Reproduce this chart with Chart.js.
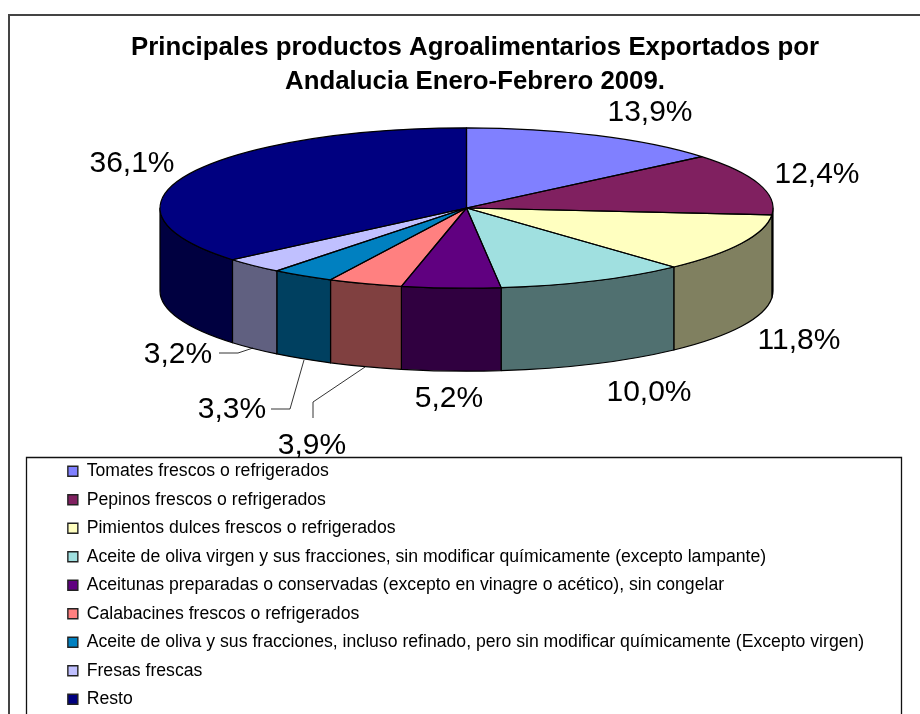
<!DOCTYPE html>
<html><head><meta charset="utf-8">
<style>html,body{margin:0;padding:0;background:#fff}canvas{display:block}</style>
<script src="https://cdn.jsdelivr.net/npm/chart.js@4"></script>
</head><body>
<div style="width:920px;height:714px"><canvas id="c" width="920" height="714"></canvas></div>
<script>
const categories = [
  'Tomates frescos o refrigerados',
  'Pepinos frescos o refrigerados',
  'Pimientos dulces frescos o refrigerados',
  'Aceite de oliva virgen y sus fracciones, sin modificar químicamente (excepto lampante)',
  'Aceitunas preparadas o conservadas (excepto en vinagre o acético), sin congelar',
  'Calabacines frescos o refrigerados',
  'Aceite de oliva y sus fracciones, incluso refinado, pero sin modificar químicamente (Excepto virgen)',
  'Fresas frescas',
  'Resto'
];
const shares = [13.9, 12.4, 11.8, 10.0, 5.2, 3.9, 3.3, 3.2, 36.1];
const titleLines = ['Principales productos Agroalimentarios Exportados por', 'Andalucia Enero-Febrero 2009.'];
const topColors  = ['#8080FF','#802060','#FFFFC0','#A0E0E0','#600080','#FF8080','#0080C0','#C0C0FF','#000080'];
const wallColors = ['#404080','#401030','#808060','#507070','#300040','#804040','#004060','#606080','#000040'];

// Presentation only
const PIE_CY = 208, TILT = 80/306, WALL = 83;
const labelCenters = [[650,113],[817,175],[799,341],[649,393],[449,399],[312,446],[232,410],[178,355],[132,164]];
const leaders = [null,null,null,null,null,
  [[313,418],[313,402],[365,367]],
  [[271,409],[290,409],[304,360]],
  [[219,353],[238,353],[253,348]],
  null];

const pie3d = {
  id:'pie3d',
  afterLayout(chart){
    const t = chart.titleBlock;
    t.left = 131; t.right = 819; t.top = 31;
    const l = chart.legend;
    l.left = 57; l.right = 900; l.top = 451.5; l.bottom = 770;
  },
  beforeDraw(chart){
    const c = chart.ctx;
    c.save();
    c.fillStyle = '#fff'; c.fillRect(0,0,920,714);
    c.strokeStyle = '#444'; c.lineWidth = 2;
    c.beginPath(); c.moveTo(9,720); c.lineTo(9,15); c.lineTo(920,15); c.stroke();
    c.restore();
  },
  beforeDatasetDraw(chart,args){
    const c = chart.ctx, arcs = args.meta.data, a0 = arcs[0];
    const rx = a0.outerRadius, ry = rx*TILT;
    c.save();
    c.strokeStyle = '#000'; c.lineWidth = 1.2; c.lineJoin = 'round';
    arcs.forEach((a,i)=>{
      const s = Math.max(a.startAngle,0), e = Math.min(a.endAngle,Math.PI);
      if (e <= s) return;
      c.beginPath();
      c.ellipse(a.x,PIE_CY,rx,ry,0,s,e);
      c.ellipse(a.x,PIE_CY+WALL,rx,ry,0,e,s,true);
      c.closePath();
      c.fillStyle = wallColors[i]; c.fill(); c.stroke();
    });
    c.restore();
    c.save();
    c.translate(a0.x,PIE_CY); c.scale(1,TILT); c.translate(-a0.x,-a0.y);
  },
  afterDatasetDraw(chart,args){
    const c = chart.ctx, arcs = args.meta.data, a0 = arcs[0];
    c.restore();
    const rx = a0.outerRadius, ry = rx*TILT;
    c.save();
    c.strokeStyle = '#000'; c.lineWidth = 1.2; c.lineJoin = 'round';
    arcs.forEach(a=>{
      c.beginPath(); c.moveTo(a.x,PIE_CY);
      c.ellipse(a.x,PIE_CY,rx,ry,0,a.startAngle,a.endAngle);
      c.closePath(); c.stroke();
    });
    c.lineWidth = 0.8;
    leaders.forEach(p=>{
      if(!p) return;
      c.beginPath(); p.forEach((q,i)=> i?c.lineTo(q[0],q[1]):c.moveTo(q[0],q[1])); c.stroke();
    });
    c.fillStyle = '#000'; c.font = '30px "Liberation Sans"'; c.textAlign='center'; c.textBaseline='middle';
    shares.forEach((v,i)=> c.fillText(v.toFixed(1).replace('.',',')+'%',labelCenters[i][0],labelCenters[i][1]));
    c.restore();
  }
};
const legendFrame = {
  id:'legendFrame',
  beforeDraw(chart){
    const c = chart.ctx; c.save();
    c.strokeStyle='#111'; c.lineWidth=1.3;
    c.beginPath(); c.moveTo(26.5,720); c.lineTo(26.5,457.5); c.lineTo(901.5,457.5); c.lineTo(901.5,720); c.stroke();
    c.restore();
  }
};
new Chart(document.getElementById('c'),{
  type:'pie',
  data:{labels:categories,datasets:[{data:shares,backgroundColor:topColors,borderWidth:0,clip:false}]},
  options:{
    responsive:false,animation:false,events:[],
    layout:{padding:{left:160,right:147,top:0,bottom:0}},
    plugins:{
      tooltip:{enabled:false},
      title:{display:true,text:titleLines,color:'#000',align:'center',
        font:{family:'"Liberation Sans"',size:25.8,weight:'bold',lineHeight:1.32},padding:{top:0,bottom:0}},
      legend:{position:'chartArea',align:'start',
        labels:{boxWidth:10,boxHeight:10,padding:10.85,color:'#000',
          font:{family:'"Liberation Sans"',size:17.65},
          generateLabels(ch){
            return Chart.overrides.pie.plugins.legend.labels.generateLabels(ch).map(it=>Object.assign(it,{strokeStyle:'#222',lineWidth:1.4}));
          }}}
    }
  },
  plugins:[pie3d,legendFrame]
});
</script></body></html>
